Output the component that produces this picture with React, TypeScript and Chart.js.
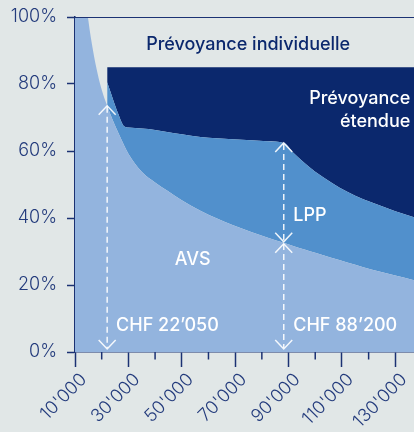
import React, { useEffect, useRef } from "react";
import { Chart, registerables } from "chart.js";

Chart.register(...registerables);

// ---- data (income in CHF, share of income in %) ----
const avsIncome = [
  10000, 11000, 12000, 13000, 14000, 15000, 16750, 18500, 20125,
  22050, 24000, 26000, 28500, 30000, 35000, 40000, 44500, 50000, 57000, 63000,
  69000, 76000, 82000, 88200, 92000, 96000, 100000, 106000, 112000, 118000,
  124000, 130000, 137000,
];
const avsShare = [
  148, 135, 124, 114, 106, 99, 90, 83, 78,
  73.5, 69.5, 65.8, 61.5, 59.2, 53.8, 50.6, 48.2, 45.3, 42.2, 39.9,
  37.9, 35.8, 34.2, 32.6, 31.6, 30.6, 29.6, 28.1, 26.7, 25.3,
  24.0, 22.8, 21.4,
];
const lppIncome = [
  22050, 24000, 26000, 28500, 30000, 35000, 40000, 44500, 50000, 57000, 63000,
  69000, 76000, 82000, 88200, 92000, 96000, 100000, 106000, 112000, 118000,
  124000, 130000, 137000,
];
const lppShare = [
  7.0, 6.5, 5.7, 5.8, 7.8, 12.9, 15.7, 17.5, 19.7, 22.0, 23.9,
  25.6, 27.4, 28.7, 29.8, 27.7, 25.8, 24.2, 22.5, 21.1, 20.3,
  19.8, 19.2, 18.8,
];
const extShare = [
  4.5, 9, 13.5, 17.7, 18, 18.3, 18.7, 19.3, 20, 20.8, 21.2,
  21.5, 21.8, 22.1, 22.6, 25.7, 28.6, 31.2, 34.4, 37.2, 39.4,
  41.2, 43, 44.8,
];
const markerIncome = [22050, 88200];
const markerLabels = ["CHF 22’050", "CHF 88’200"];
const xTickValues = [
  10000, 20000, 30000, 40000, 50000, 60000, 70000, 80000, 90000, 100000,
  110000, 120000, 130000,
];
const xTickLabels = [
  "10'000", "", "30'000", "", "50'000", "", "70'000", "", "90'000", "",
  "110'000", "", "130'000",
];
const yTickValues = [0, 20, 40, 60, 80, 100];
const yTickLabels = ["0%", "20%", "40%", "60%", "80%", "100%"];
const xMin = 10000;
const xMax = 137000;

const C_BG = "#e1e7e7";
const C_AVS = "#93b4de";
const C_LPP = "#5190cc";
const C_EXT = "#0b286d";
const C_AXIS = "#1b3273";
const C_TEXT = "#233b7c";
const FONT = "Inter";

function chevron(ctx: CanvasRenderingContext2D, x: number, tipY: number, dir: number) {
  // dir = -1 : pointing up ; dir = 1 : pointing down
  ctx.beginPath();
  ctx.moveTo(x - 8.5, tipY - dir * 9);
  ctx.lineTo(x, tipY);
  ctx.lineTo(x + 8.5, tipY - dir * 9);
  ctx.stroke();
}

const overlayPlugin = {
  id: "overlay",
  afterDatasetsDraw(chart: any) {
    const { ctx, chartArea, scales } = chart;
    const xs = scales.x;
    const ys = scales.y;
    ctx.save();
    // top border at 100%
    ctx.strokeStyle = C_AXIS;
    ctx.lineWidth = 1.2;
    ctx.beginPath();
    ctx.moveTo(chartArea.left, Math.round(chartArea.top) + 0.5);
    ctx.lineTo(chartArea.right, Math.round(chartArea.top) + 0.5);
    ctx.stroke();

    // minor x ticks
    ctx.lineWidth = 1.5;
    xTickValues.forEach((v, i) => {
      if (xTickLabels[i] !== "") return;
      const px = xs.getPixelForValue(v);
      ctx.beginPath();
      ctx.moveTo(px, chartArea.bottom);
      ctx.lineTo(px, chartArea.bottom + 7.5);
      ctx.stroke();
    });

    // rotated x tick labels (45°)
    ctx.fillStyle = C_TEXT;
    ctx.font = `300 18px ${FONT}`;
    ctx.textAlign = "right";
    ctx.textBaseline = "alphabetic";
    xTickValues.forEach((v, i) => {
      if (xTickLabels[i] === "") return;
      const px = xs.getPixelForValue(v);
      ctx.save();
      ctx.translate(px + 12.5, chartArea.bottom + 28.5);
      ctx.rotate(-Math.PI / 4);
      ctx.fillText(xTickLabels[i], 0, 0);
      ctx.restore();
    });

    // markers
    ctx.strokeStyle = "rgba(255,255,255,0.9)";
    ctx.lineWidth = 1.5;
    const bottomY = ys.getPixelForValue(0) - 3;
    markerIncome.forEach((inc, k) => {
      const px = xs.getPixelForValue(inc);
      const ai = avsIncome.indexOf(inc);
      const li = lppIncome.indexOf(inc);
      const avsTop = ys.getPixelForValue(avsShare[ai]);
      const lppTop = ys.getPixelForValue(avsShare[ai] + lppShare[li]);
      const topY = k === 0 ? avsTop : lppTop;
      ctx.setLineDash([6, 4]);
      ctx.beginPath();
      ctx.moveTo(px, topY + 1);
      ctx.lineTo(px, bottomY - 1);
      ctx.stroke();
      ctx.setLineDash([]);
      chevron(ctx, px, topY, -1);
      chevron(ctx, px, bottomY, 1);
      if (k === 1) {
        chevron(ctx, px, avsTop - 1, 1);
        chevron(ctx, px, avsTop + 1, -1);
      }
    });

    // texts
    ctx.textBaseline = "middle";
    ctx.fillStyle = C_EXT;
    ctx.font = `500 18px ${FONT}`;
    ctx.textAlign = "center";
    ctx.fillText("Prévoyance individuelle", xs.getPixelForValue(74875), ys.getPixelForValue(91.9));

    ctx.fillStyle = "#ffffff";
    ctx.textAlign = "right";
    ctx.fillText("Prévoyance", xs.getPixelForValue(135625), ys.getPixelForValue(75.5));
    ctx.fillText("étendue", xs.getPixelForValue(135625), ys.getPixelForValue(68.9));

    ctx.textAlign = "center";
    ctx.fillText("AVS", xs.getPixelForValue(54060), ys.getPixelForValue(27.5));

    ctx.textAlign = "left";
    ctx.fillText("LPP", xs.getPixelForValue(91750), ys.getPixelForValue(40.7));
    ctx.fillText(markerLabels[0], xs.getPixelForValue(25375), ys.getPixelForValue(7.8));
    ctx.fillText(markerLabels[1], xs.getPixelForValue(91750), ys.getPixelForValue(7.8));
    ctx.restore();
  },
};

export default function App() {
  const ref = useRef<HTMLCanvasElement | null>(null);

  useEffect(() => {
    if (!ref.current) return;
    const chart = new Chart(ref.current, {
      type: "line",
      data: {
        datasets: [
          {
            label: "AVS",
            data: avsIncome.map((x, i) => ({ x, y: avsShare[i] })),
            backgroundColor: C_AVS,
            borderWidth: 0,
            pointRadius: 0,
            fill: "origin",
            cubicInterpolationMode: "monotone",
          },
          {
            label: "LPP",
            data: lppIncome.map((x, i) => ({ x, y: lppShare[i] })),
            backgroundColor: C_LPP,
            borderWidth: 0,
            pointRadius: 0,
            fill: "-1",
            cubicInterpolationMode: "monotone",
          },
          {
            label: "Prévoyance étendue",
            data: lppIncome.map((x, i) => ({ x, y: extShare[i] })),
            backgroundColor: C_EXT,
            borderWidth: 0,
            pointRadius: 0,
            fill: "-1",
            cubicInterpolationMode: "monotone",
          },
        ],
      },
      options: {
        animation: false,
        responsive: true,
        maintainAspectRatio: false,
        layout: { padding: { top: 17, right: 0, left: 0, bottom: 0 } },
        plugins: {
          legend: { display: false },
          tooltip: { enabled: false },
        },
        scales: {
          x: {
            type: "linear",
            min: xMin,
            max: xMax,
            z: 1,
            border: { display: true, color: C_AXIS, width: 1.5 },
            grid: {
              drawOnChartArea: false,
              drawTicks: true,
              tickLength: 15,
              tickWidth: 1.5,
              tickColor: (c: any) =>
                c.tick && xTickLabels[xTickValues.indexOf(c.tick.value)] !== "" ? C_AXIS : "rgba(0,0,0,0)",
            },
            ticks: {
              display: false,
              autoSkip: false,
            },
            afterBuildTicks: (s: any) => {
              s.ticks = xTickValues.map((value) => ({ value }));
            },
            afterFit: (s: any) => {
              s.height = 80;
            },
          },
          y: {
            stacked: true,
            min: 0,
            max: 100,
            z: 1,
            border: { display: true, color: C_AXIS, width: 1.5 },
            grid: {
              drawOnChartArea: false,
              drawTicks: true,
              tickLength: 8,
              tickWidth: 1.5,
              tickColor: C_AXIS,
            },
            ticks: {
              padding: 10,
              color: C_TEXT,
              font: { family: FONT, size: 18, weight: "300", lineHeight: 0.7 },
              callback: (v: any) => {
                const i = yTickValues.indexOf(v);
                return i >= 0 ? yTickLabels[i] : "";
              },
            },
            afterBuildTicks: (s: any) => {
              s.ticks = yTickValues.map((value) => ({ value }));
            },
            afterFit: (s: any) => {
              s.width = 75;
            },
          },
        },
      },
      plugins: [overlayPlugin],
    });
    return () => chart.destroy();
  }, []);

  return (
    <div
      style={{
        position: "absolute",
        left: 0,
        top: 0,
        width: 414,
        height: 432,
        background: C_BG,
      }}
    >
      <canvas ref={ref} />
    </div>
  );
}
